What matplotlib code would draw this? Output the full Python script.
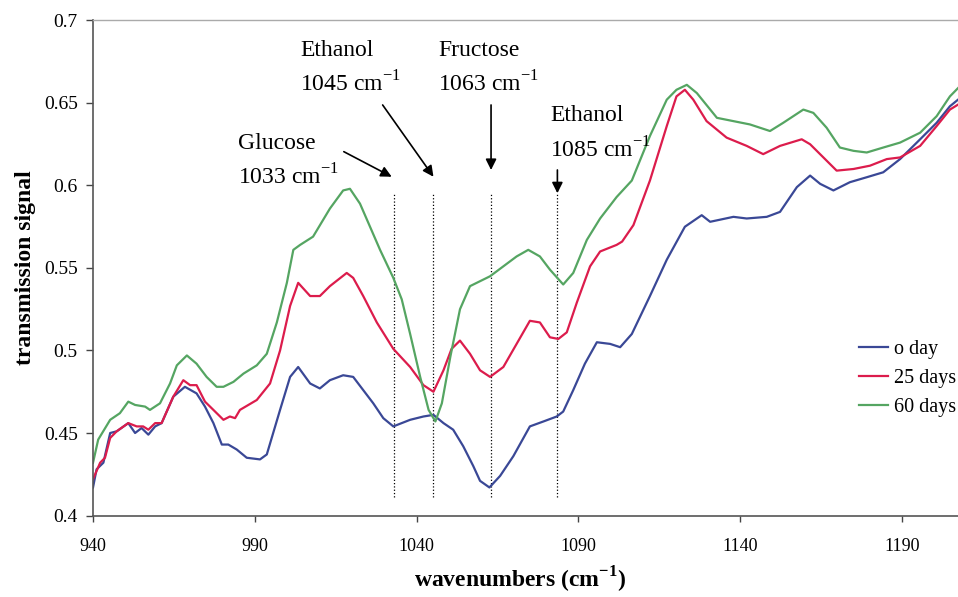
import matplotlib
matplotlib.use("Agg")
import matplotlib.pyplot as plt

# fonts: Times-like serif throughout
plt.rcParams['font.family'] = ['Liberation Serif', 'DejaVu Serif']
plt.rcParams['mathtext.fontset'] = 'custom'
plt.rcParams['mathtext.rm'] = 'Liberation Serif'
plt.rcParams['mathtext.bf'] = 'Liberation Serif:bold'

# =============================================================================
# Data
# =============================================================================

wn_0 = [940.0, 941.1, 943.2, 945.3, 947.3, 950.9, 953.0, 955.0, 957.1, 959.2,
        961.2, 964.8, 968.4, 972.0, 974.6, 977.2, 979.8, 981.8, 984.4, 987.5,
        991.6, 993.7, 997.8, 1000.9, 1003.4, 1007.1, 1010.1, 1013.2, 1017.3, 1020.4,
        1023.5, 1026.6, 1029.7, 1032.8, 1038.0, 1042.1, 1045.2, 1048.3, 1051.3, 1054.4,
        1057.5, 1059.6, 1062.5, 1065.8, 1069.9, 1075.0, 1079.2, 1083.3, 1085.3, 1088.4,
        1092.0, 1095.7, 1099.8, 1102.9, 1106.5, 1112.1, 1117.3, 1122.9, 1128.1, 1130.7,
        1137.9, 1142.0, 1148.2, 1152.3, 1157.5, 1161.6, 1164.7, 1168.8, 1173.9, 1179.1,
        1184.2, 1189.4, 1195.6, 1200.7, 1204.8, 1207.3]
sig_0 = [0.417, 0.428, 0.432, 0.450, 0.451, 0.456, 0.450, 0.453, 0.449, 0.454,
         0.456, 0.472, 0.478, 0.474, 0.466, 0.456, 0.443, 0.443, 0.440, 0.435,
         0.434, 0.437, 0.464, 0.484, 0.490, 0.480, 0.477, 0.482, 0.485, 0.484,
         0.476, 0.468, 0.459, 0.454, 0.458, 0.460, 0.461, 0.456, 0.452, 0.442,
         0.430, 0.421, 0.417, 0.424, 0.436, 0.454, 0.457, 0.460, 0.463, 0.476,
         0.492, 0.505, 0.504, 0.502, 0.510, 0.533, 0.555, 0.575, 0.582, 0.578,
         0.581, 0.580, 0.581, 0.584, 0.599, 0.606, 0.601, 0.597, 0.602, 0.605,
         0.608, 0.616, 0.628, 0.638, 0.648, 0.652]

wn_25 = [940.0, 942.2, 943.7, 945.3, 947.3, 950.9, 953.5, 955.5, 957.1, 959.2,
         961.2, 964.8, 967.9, 970.0, 972.0, 974.6, 977.2, 980.3, 982.3, 983.9,
         985.4, 990.6, 994.7, 997.8, 1000.9, 1003.4, 1007.1, 1010.1, 1013.2, 1015.8,
         1018.4, 1020.4, 1023.5, 1027.7, 1032.8, 1038.0, 1042.1, 1045.2, 1048.3, 1050.8,
         1053.4, 1056.5, 1059.6, 1062.7, 1066.8, 1070.9, 1075.0, 1078.1, 1081.2, 1083.8,
         1086.4, 1089.5, 1093.6, 1096.7, 1101.8, 1103.5, 1107.0, 1112.1, 1117.3, 1120.3,
         1122.9, 1125.5, 1129.6, 1135.8, 1142.0, 1147.1, 1152.3, 1159.0, 1161.6, 1165.7,
         1169.8, 1175.0, 1180.1, 1185.3, 1189.4, 1195.6, 1200.7, 1204.8, 1207.3]
sig_25 = [0.422, 0.432, 0.435, 0.447, 0.451, 0.456, 0.454, 0.454, 0.452, 0.456,
          0.456, 0.472, 0.482, 0.479, 0.479, 0.469, 0.464, 0.458, 0.460, 0.459,
          0.464, 0.470, 0.480, 0.500, 0.527, 0.541, 0.533, 0.533, 0.539, 0.543,
          0.547, 0.544, 0.533, 0.517, 0.501, 0.490, 0.479, 0.475, 0.488, 0.501,
          0.506, 0.498, 0.488, 0.484, 0.490, 0.504, 0.518, 0.517, 0.508, 0.507,
          0.511, 0.529, 0.551, 0.560, 0.564, 0.566, 0.576, 0.603, 0.636, 0.654,
          0.658, 0.652, 0.639, 0.629, 0.624, 0.619, 0.624, 0.628, 0.625, 0.617,
          0.609, 0.610, 0.612, 0.616, 0.617, 0.624, 0.636, 0.646, 0.649]

wn_60 = [940.0, 941.6, 945.3, 948.3, 950.9, 953.0, 956.1, 957.6, 960.7, 963.8,
         965.9, 969.0, 972.0, 975.1, 978.2, 980.3, 983.4, 986.5, 990.6, 993.7,
         996.8, 999.9, 1001.9, 1004.0, 1008.0, 1013.2, 1017.3, 1019.4, 1022.5, 1025.6,
         1028.7, 1032.8, 1035.4, 1038.0, 1041.1, 1043.7, 1045.8, 1047.8, 1050.4, 1053.4,
         1056.5, 1062.7, 1066.8, 1070.9, 1074.5, 1078.1, 1081.2, 1085.3, 1088.4, 1092.6,
         1096.7, 1101.8, 1106.5, 1112.1, 1117.3, 1120.3, 1123.5, 1126.6, 1132.8, 1137.9,
         1143.0, 1149.2, 1153.3, 1159.5, 1162.6, 1166.7, 1170.8, 1175.0, 1179.1, 1184.2,
         1189.4, 1195.6, 1200.7, 1204.8, 1207.3]
sig_60 = [0.432, 0.446, 0.458, 0.462, 0.469, 0.467, 0.466, 0.464, 0.468, 0.480,
          0.491, 0.497, 0.492, 0.484, 0.478, 0.478, 0.481, 0.486, 0.491, 0.498,
          0.517, 0.541, 0.561, 0.564, 0.569, 0.586, 0.597, 0.598, 0.589, 0.575,
          0.561, 0.544, 0.531, 0.510, 0.484, 0.464, 0.457, 0.468, 0.496, 0.525,
          0.539, 0.545, 0.551, 0.557, 0.561, 0.557, 0.549, 0.540, 0.547, 0.567,
          0.580, 0.593, 0.603, 0.630, 0.652, 0.658, 0.661, 0.656, 0.641, 0.639,
          0.637, 0.633, 0.638, 0.646, 0.644, 0.635, 0.623, 0.621, 0.620, 0.623,
          0.626, 0.632, 0.642, 0.654, 0.659]

series_labels = ['o day', '25 days', '60 days']
series_colors = ['#3a4896', '#dc1c4c', '#55a562']

# marker bands: nominal wavenumber (label) and where the dotted line sits
band_names = ['Glucose', 'Ethanol', 'Fructose', 'Ethanol']
band_wn = [1033, 1045, 1063, 1085]
band_line_wn = [1033, 1045, 1063, 1083.5]

x_ticks = [940, 990, 1040, 1090, 1140, 1190]
y_ticks = [0.4, 0.45, 0.5, 0.55, 0.6, 0.65, 0.7]
y_tick_labels = ['0.4', '0.45', '0.5', '0.55', '0.6', '0.65', '0.7']

# =============================================================================
# Figure
# =============================================================================

fig = plt.figure(figsize=(9.58, 5.97), dpi=100)
ax = fig.add_axes([0.0971, 0.1365, 0.9029, 0.8292])

for wn, sig, lab, col in zip([wn_0, wn_25, wn_60], [sig_0, sig_25, sig_60],
                             series_labels, series_colors):
    ax.plot(wn, sig, color=col, lw=1.6, label=lab)

# dotted vertical markers
for w in band_line_wn:
    ax.plot([w, w], [0.411, 0.5955], color='black', lw=0.9, ls=':', zorder=1)

ann_fs = 17
arrow = dict(arrowstyle='-|>', color='black', lw=1.2, mutation_scale=16,
             shrinkA=0, shrinkB=0)

# Glucose 1033
ax.text(984.8, 0.6252, band_names[0], fontsize=ann_fs, va='center', ha='left')
ax.text(984.8, 0.6052, f'{band_wn[0]} cm$^{{-1}}$', fontsize=ann_fs, va='center', ha='left')
ax.annotate('', xy=(band_line_wn[0] - 0.7, 0.6053), xytext=(1017.5, 0.6205), arrowprops=arrow)

# Ethanol 1045
ax.text(1004.0, 0.682, band_names[1], fontsize=ann_fs, va='center', ha='left')
ax.text(1004.0, 0.6615, f'{band_wn[1]} cm$^{{-1}}$', fontsize=ann_fs, va='center', ha='left')
ax.annotate('', xy=(band_line_wn[1] + 0.2, 0.6053), xytext=(1029.5, 0.6488), arrowprops=arrow)

# Fructose 1063
ax.text(1046.6, 0.682, band_names[2], fontsize=ann_fs, va='center', ha='left')
ax.text(1046.6, 0.6615, f'{band_wn[2]} cm$^{{-1}}$', fontsize=ann_fs, va='center', ha='left')
ax.annotate('', xy=(band_line_wn[2], 0.6094), xytext=(band_line_wn[2], 0.6488), arrowprops=arrow)

# Ethanol 1085
ax.text(1081.2, 0.6427, band_names[3], fontsize=ann_fs, va='center', ha='left')
ax.text(1081.2, 0.6215, f'{band_wn[3]} cm$^{{-1}}$', fontsize=ann_fs, va='center', ha='left')
ax.annotate('', xy=(band_line_wn[3], 0.5953), xytext=(band_line_wn[3], 0.6094), arrowprops=arrow)

ax.set_xlim(940, 1207.3)
ax.set_ylim(0.4, 0.7)
ax.set_xticks(x_ticks)
ax.set_yticks(y_ticks)
ax.set_yticklabels(y_tick_labels)
ax.tick_params(axis='y', direction='out', length=5, width=1, labelsize=14, pad=6,
               color='#444444')
ax.tick_params(axis='x', direction='out', length=4, width=1, labelsize=13, pad=12,
               color='#444444')

ax.spines['right'].set_visible(False)
ax.spines['top'].set_color('#aaaaaa')
ax.spines['top'].set_linewidth(1.0)
for s in ['left', 'bottom']:
    ax.spines[s].set_color('#555555')
    ax.spines[s].set_linewidth(1.2)

ax.set_ylabel('transmission signal', fontsize=17, fontweight='bold')
ax.yaxis.set_label_coords(-0.066, 0.5)
ax.set_xlabel(r'wavenumbers (cm$^{\mathbf{-1}}$)', fontsize=17, fontweight='bold')
ax.xaxis.set_label_coords(0.494, -0.10)

ax.legend(loc='upper left', bbox_to_anchor=(0.885, 0.355), frameon=False,
          fontsize=14.5, handlelength=1.45, handletextpad=0.3, labelspacing=0.5,
          borderaxespad=0, borderpad=0)

plt.savefig('out.png', dpi=100)
